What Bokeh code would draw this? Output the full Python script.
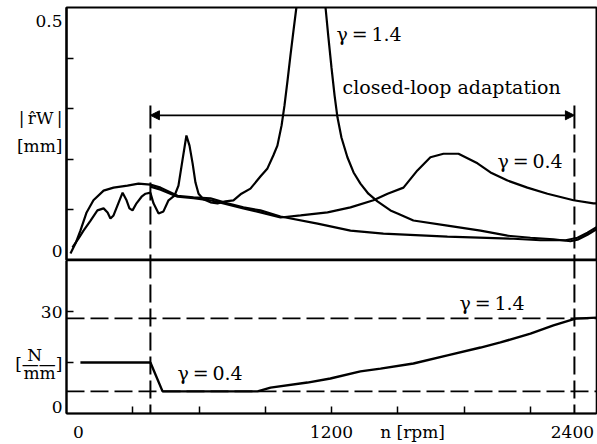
from bokeh.plotting import figure
from bokeh.layouts import column
from bokeh.models import Range1d, Label, Arrow, NormalHead, FixedTicker
from bokeh.embed import file_html
from bokeh.resources import INLINE

# ---------------- data ----------------
# upper panel: |r_W| [mm] versus n [rpm]
n_adaptive = [18, 41, 63, 91, 122, 168, 213, 276, 326, 380, 426, 503, 575, 652, 729, 801,
              878, 969, 1137, 1286, 1435, 1725, 2024, 2146, 2260, 2314, 2359, 2404]
r_adaptive = [0.014, 0.034, 0.059, 0.095, 0.119, 0.138, 0.144, 0.148, 0.152, 0.150, 0.144,
              0.128, 0.125, 0.123, 0.113, 0.105, 0.099, 0.087, 0.073, 0.059, 0.053, 0.047,
              0.043, 0.040, 0.040, 0.045, 0.055, 0.067]

n_g14 = [27, 54, 77, 109, 140, 168, 186, 199, 213, 231, 254, 272, 285, 299, 317, 340, 358,
         380, 394, 417, 439, 462, 489, 507, 525, 543, 557, 571, 584, 598, 620, 652, 684, 720,
         756, 792, 833, 878, 910, 937, 955, 974, 987, 1001, 1014, 1028, 1041, 1060,
         1160, 1173, 1186, 1200, 1214, 1227, 1245, 1272, 1300, 1331, 1367, 1408, 1467, 1499,
         1571, 1725, 1875, 1997, 2101, 2205, 2282, 2314, 2359, 2404]
r_g14 = [0.026, 0.043, 0.059, 0.079, 0.099, 0.103, 0.095, 0.083, 0.089, 0.109, 0.134, 0.119,
         0.103, 0.099, 0.113, 0.126, 0.132, 0.134, 0.113, 0.093, 0.097, 0.119, 0.128, 0.148,
         0.198, 0.247, 0.227, 0.192, 0.154, 0.132, 0.121, 0.115, 0.113, 0.117, 0.119, 0.132,
         0.142, 0.166, 0.182, 0.208, 0.227, 0.267, 0.306, 0.356, 0.405, 0.455, 0.500, 0.560,
         0.560, 0.500, 0.441, 0.381, 0.326, 0.283, 0.243, 0.204, 0.174, 0.152, 0.132, 0.117,
         0.099, 0.093, 0.079, 0.069, 0.059, 0.049, 0.045, 0.042, 0.038, 0.041, 0.051, 0.063]

n_g04 = [380, 426, 503, 575, 652, 729, 801, 878, 969, 1060, 1182, 1286, 1390, 1454, 1526,
         1589, 1648, 1707, 1775, 1861, 1920, 1997, 2087, 2178, 2296, 2386, 2404]
r_g04 = [0.146, 0.140, 0.126, 0.123, 0.119, 0.111, 0.103, 0.095, 0.085, 0.089, 0.095, 0.105,
         0.119, 0.132, 0.144, 0.178, 0.204, 0.211, 0.211, 0.192, 0.174, 0.158, 0.144, 0.132,
         0.119, 0.113, 0.113]

# lower panel: stiffness [N/mm] versus n [rpm]
n_stiff = [63, 380, 435, 865, 924, 1091, 1195, 1331, 1422, 1571, 1725, 1875, 1965, 2101,
           2205, 2305, 2404]
k_stiff = [15.0, 15.0, 6.5, 6.5, 7.6, 9.1, 10.3, 12.4, 13.2, 14.7, 17.1, 19.4, 20.9, 23.5,
           25.9, 27.9, 28.2]
k_fixed_g14 = 28.0
k_fixed_g04 = 6.5

n_adapt = [380, 2300]          # closed-loop adaptation interval
r_arrow = 0.287                # height of the interval arrow

x_ticks = [300, 600, 900, 1200, 1500, 1800, 2100]
x_tick_labels = ["0", "1200", "n [rpm]", "2400"]
r_ticks = [0.1, 0.2, 0.3, 0.4]
r_tick_labels = ["0.5", "|\u2009r\u0302W\u2009|", "[mm]", "0"]
k_ticks = [15, 30]
k_tick_labels = ["30", "N\u2003\u2009", "[\u2014\u2014]", "mm\u2009\u2009", "0"]

# ---------------- layout helpers (page pixels -> data) ----------------
FL, FR = 66, 596
UT, UB = 7, 260
LT, LB = 260, 413
XMAX, RMAX, KMAX = 2400, 0.5, 45


def px2n(px):
    return round((px - FL) / (FR - FL) * XMAX)


def py2r(py):
    return round((UB - py) / (UB - UT) * RMAX, 4)


def py2k(py):
    return round((LB - py) / (LB - LT) * KMAX, 3)


FONT = "DejaVu Serif"
FS = "17px"
DASH = "18 6"

xr = Range1d(0, XMAX)


def style(p):
    p.grid.visible = False
    p.outline_line_color = "black"
    p.outline_line_width = 1.6
    p.background_fill_color = "white"
    p.border_fill_color = "white"


def style_axis(ax, minor, label_pos, labels, standoff):
    ax.ticker = FixedTicker(ticks=label_pos, minor_ticks=minor)
    ax.major_label_overrides = dict(zip(label_pos, labels))
    ax.major_tick_in = 0
    ax.major_tick_out = 0
    ax.minor_tick_in = 7
    ax.minor_tick_out = 0
    ax.minor_tick_line_width = 1.5
    ax.minor_tick_line_color = "black"
    ax.axis_line_width = 2.2
    ax.major_label_text_font = FONT
    ax.major_label_text_font_size = FS
    ax.major_label_text_color = "black"
    ax.major_label_standoff = standoff


def lab(p, x, y, text, size="19px"):
    p.add_layout(Label(x=x, y=y, text=text, text_font=FONT, text_font_size=size,
                       text_align="left", text_baseline="middle", text_color="black"))


# ---------------- upper panel ----------------
p1 = figure(width=597, height=UB, x_range=xr, y_range=Range1d(0, RMAX),
            output_backend="svg", toolbar_location=None, x_axis_location=None,
            min_border_left=FL, min_border_right=597 - FR, min_border_top=UT,
            min_border_bottom=0)
style(p1)
p1.outline_line_width = 2
style_axis(p1.yaxis[0], r_ticks, [py2r(20), py2r(117), py2r(146), py2r(252)],
           r_tick_labels, 4)

p1.line(n_g14, r_g14, line_color="black", line_width=2.2)
p1.line(n_g04, r_g04, line_color="black", line_width=2.2)
p1.line(n_adaptive, r_adaptive, line_color="black", line_width=2.2)

# interval arrow and its end marks
p1.add_layout(Arrow(start=NormalHead(size=9, fill_color="black", line_color="black"),
                    end=NormalHead(size=9, fill_color="black", line_color="black"),
                    x_start=n_adapt[0], y_start=r_arrow, x_end=n_adapt[1], y_end=r_arrow,
                    line_width=1.8, line_color="black"))
p1.segment(x0=n_adapt, y0=[py2r(105)] * 2, x1=n_adapt, y1=[py2r(128)] * 2,
           line_color="black", line_width=2)
p1.segment(x0=n_adapt, y0=[py2r(134)] * 2, x1=n_adapt, y1=[0, 0],
           line_color="black", line_width=2, line_dash=DASH)

lab(p1, px2n(342), py2r(87), "closed-loop adaptation")
lab(p1, px2n(336), py2r(33), "\u03b3\u2009=\u20091.4")
lab(p1, px2n(497), py2r(160), "\u03b3\u2009=\u20090.4")

# ---------------- lower panel ----------------
p2 = figure(width=597, height=444 - UB, x_range=xr, y_range=Range1d(0, KMAX),
            output_backend="svg", toolbar_location=None,
            min_border_left=FL, min_border_right=597 - FR, min_border_top=0,
            min_border_bottom=444 - LB)
style(p2)
style_axis(p2.xaxis[0], x_ticks, [px2n(78), 1200, px2n(412), px2n(572)],
           x_tick_labels, 8)
style_axis(p2.yaxis[0], k_ticks, [30, py2k(355), py2k(364), py2k(373), py2k(407)],
           k_tick_labels, 4)

p2.segment(x0=[0, 0], y0=[k_fixed_g14, k_fixed_g04], x1=[XMAX, XMAX],
           y1=[k_fixed_g14, k_fixed_g04], line_color="black", line_width=1.8, line_dash=DASH)
p2.segment(x0=n_adapt, y0=[KMAX, KMAX], x1=n_adapt, y1=[0, 0],
           line_color="black", line_width=2, line_dash=DASH)
p2.line(n_stiff, k_stiff, line_color="black", line_width=2.4)

lab(p2, px2n(459), py2k(303), "\u03b3\u2009=\u20091.4")
lab(p2, px2n(177), py2k(373), "\u03b3\u2009=\u20090.4")

layout = column(p1, p2, spacing=0)
open("out.html", "w").write(file_html(layout, INLINE))
